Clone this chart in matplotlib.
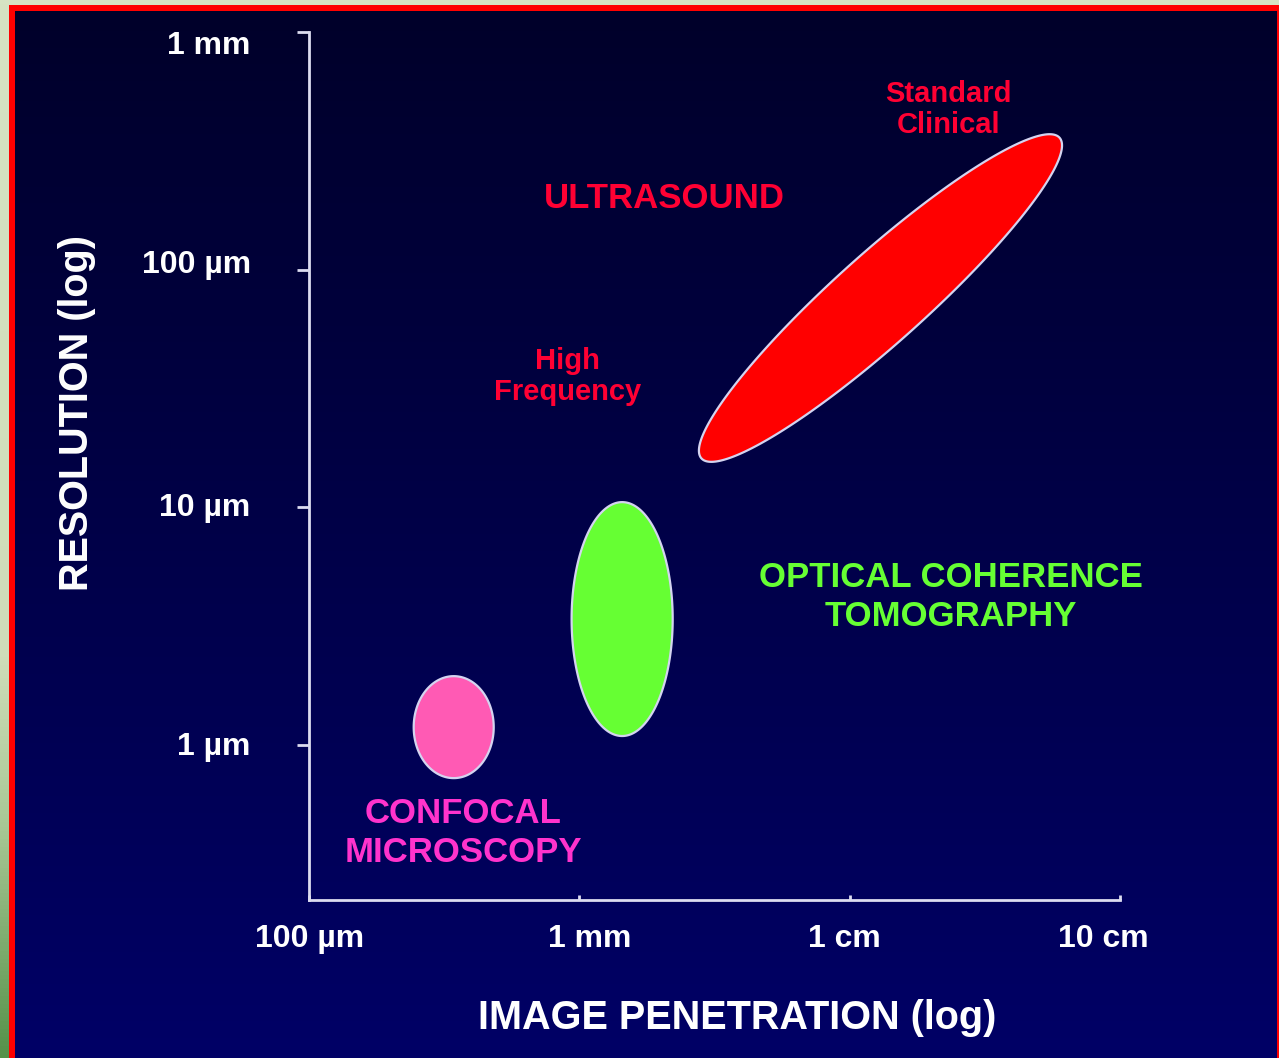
import numpy as np
import matplotlib
matplotlib.use("Agg")
import matplotlib.pyplot as plt
import matplotlib.transforms as mtransforms
from matplotlib.colors import LinearSegmentedColormap

plt.rcParams['font.family'] = ['Liberation Sans', 'DejaVu Sans']

# ---------------- data ----------------
x_ticks_um = [100, 1000, 10000, 100000]
x_tick_labels = ["100 µm", "1 mm", "1 cm", "10 cm"]
y_ticks_um = [1, 10, 100, 1000]
y_tick_labels = ["1 µm", "10 µm", "100 µm", "1 mm"]
x_limits_um = [100, 100000]
y_limits_um = [0.223, 1000]

region_names = ["CONFOCAL\nMICROSCOPY", "OPTICAL COHERENCE\nTOMOGRAPHY", "ULTRASOUND"]
# centre of each region (penetration, resolution) in µm
center_penetration_um = [343, 1440, 13000]
center_resolution_um = [1.19, 3.39, 76]
# half-axis vectors in decades (log10 units): major (dx, dy) and minor (dx, dy)
major_half_dec = [(0.148, 0.0), (0.0, 0.492), (0.662, 0.675)]
minor_half_dec = [(0.0, 0.2145), (0.187, 0.0), (0.113, -0.139)]
fill_colors = ["#ff5ab4", "#66ff33", "#ff0000"]
text_colors = ["#ff33cc", "#66ff33", "#ff0033"]

# ---------------- figure ----------------
W, H = 1279, 1058
fig = plt.figure(figsize=(W / 100, H / 100), dpi=100)

bg = fig.add_axes([0, 0, 1, 1], zorder=-10)
bg.set_xlim(0, W)
bg.set_ylim(H, 0)
bg.axis("off")
bg.add_patch(plt.Rectangle((0, 0), W, H, color="#d6e3c3", lw=0))
strip = np.linspace(0, 1, 256).reshape(-1, 1)
green_cmap = LinearSegmentedColormap.from_list(
    "g", [(0, "#d6e3c3"), (0.62, "#cfddb9"), (0.78, "#a9c896"), (1, "#56924a")])
bg.imshow(strip, cmap=green_cmap, extent=(0, 9, H, 0), aspect="auto", zorder=1)
bg.add_patch(plt.Rectangle((9, 5), W - 9, H - 5, color="#ff0000", lw=0, zorder=2))
grad = np.linspace(0, 1, 256).reshape(-1, 1)
navy_cmap = LinearSegmentedColormap.from_list("n", ["#00002a", "#000048", "#000066"])
bg.imshow(grad, cmap=navy_cmap, extent=(15, 1277, H, 11), aspect="auto", zorder=3)

ax = fig.add_axes([309 / W, 1 - 900 / H, 811 / W, 868 / H])
ax.set_facecolor("none")
ax.set_xscale("log")
ax.set_yscale("log")
ax.set_xlim(*x_limits_um)
ax.set_ylim(*y_limits_um)
for s in ["top", "right"]:
    ax.spines[s].set_visible(False)
for s in ["left", "bottom"]:
    ax.spines[s].set_color("#dcdcf0")
    ax.spines[s].set_linewidth(2)

ax.set_xticks(x_ticks_um)
ax.set_xticklabels(x_tick_labels)
ax.set_yticks(y_ticks_um)
ax.set_yticklabels(y_tick_labels)
ax.minorticks_off()
ax.tick_params(axis="x", direction="in", length=3.5, width=2, color="#dcdcf0",
               pad=17, labelsize=23, labelcolor="white")
ax.tick_params(axis="y", direction="out", length=9, width=2, color="#dcdcf0",
               pad=33, labelsize=23, labelcolor="white")
for lab in ax.get_xticklabels() + ax.get_yticklabels():
    lab.set_fontweight("bold")

# small nudges of individual tick labels (pixels) to follow the slide layout
x_nudges = [(1, 0), (10, 0), (-5, 0), (-17, 0)]
y_nudges = [(0, 2), (0, 3), (0, 8), (0, -10)]
for lab, (dx, dy) in zip(ax.get_xticklabels(), x_nudges):
    lab.set_transform(lab.get_transform() + mtransforms.ScaledTranslation(dx / 100, dy / 100, fig.dpi_scale_trans))
for lab, (dx, dy) in zip(ax.get_yticklabels(), y_nudges):
    lab.set_transform(lab.get_transform() + mtransforms.ScaledTranslation(dx / 100, dy / 100, fig.dpi_scale_trans))

ax.set_xlabel("IMAGE PENETRATION (log)", fontsize=28.5, fontweight="bold", color="white")
ax.xaxis.label.set_va("center")
ax.xaxis.set_label_coords(0.528, -0.136)
ax.set_ylabel("RESOLUTION (log)", fontsize=28.5, fontweight="bold", color="white")
ax.yaxis.label.set_va("center")
ax.yaxis.set_label_coords(-0.2855, 0.561)

t = np.linspace(0, 2 * np.pi, 400)
for i in range(len(region_names)):
    cx = np.log10(center_penetration_um[i])
    cy = np.log10(center_resolution_um[i])
    mx, my = major_half_dec[i]
    nx, ny = minor_half_dec[i]
    lx = cx + np.cos(t) * mx + np.sin(t) * nx
    ly = cy + np.cos(t) * my + np.sin(t) * ny
    ax.fill(10 ** lx, 10 ** ly, facecolor=fill_colors[i], edgecolor="#d4d4f0",
            linewidth=1.6, zorder=3, clip_on=False)

ax.text(0.190, 0.077, region_names[0], transform=ax.transAxes, ha="center", va="center",
        fontsize=25, fontweight="bold", color=text_colors[0], linespacing=1.22)
ax.text(0.792, 0.349, region_names[1], transform=ax.transAxes, ha="center", va="center",
        fontsize=25, fontweight="bold", color=text_colors[1], linespacing=1.22)
ax.text(0.438, 0.808, region_names[2], transform=ax.transAxes, ha="center", va="center",
        fontsize=25, fontweight="bold", color=text_colors[2])
ax.text(0.788, 0.911, "Standard\nClinical", transform=ax.transAxes, ha="center", va="center",
        fontsize=21, fontweight="bold", color=text_colors[2], linespacing=1.15)
ax.text(0.319, 0.603, "High\nFrequency", transform=ax.transAxes, ha="center", va="center",
        fontsize=21, fontweight="bold", color=text_colors[2], linespacing=1.15)

fig.savefig("out.png", dpi=100)
